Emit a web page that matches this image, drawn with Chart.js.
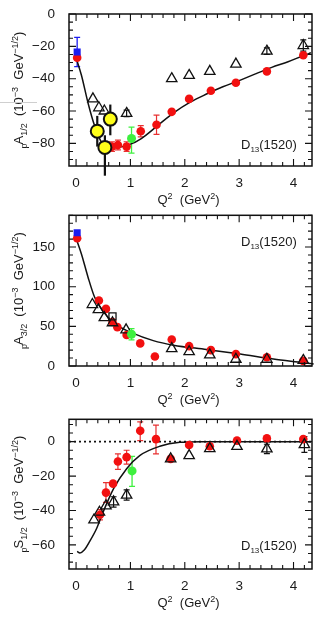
<!DOCTYPE html>
<html><head><meta charset="utf-8">
<script src="https://cdn.jsdelivr.net/npm/chart.js@4.4.1/dist/chart.umd.min.js"></script>
<style>
html,body{margin:0;padding:0;background:#fff;}
body{width:327px;height:622px;position:relative;overflow:hidden;}
canvas{position:absolute;left:0;}
</style>
</head><body>
<canvas id="c1" width="327" height="208" style="top:0px"></canvas>
<canvas id="c2" width="327" height="204" style="top:208px"></canvas>
<canvas id="c3" width="327" height="210" style="top:412px"></canvas>
<script>
// ---------- axis ranges / ticks ----------
const X_MIN = -0.13, X_MAX = 4.34;
const X_TICKS = [0, 1, 2, 3, 4];

// ---------- Panel 1 : A_1/2 ----------
const a12RedQ2  = [0.02, 0.66, 0.77, 0.93, 1.19, 1.48, 1.76, 2.08, 2.48, 2.94, 3.51, 4.18];
const a12RedVal = [-27, -82, -81, -82, -72.5, -68.5, -60.5, -52.5, -47.5, -42.5, -35.5, -25.5];
const a12RedLo  = [null, -85, -84, -85, -76, -74.5, null, null, null, null, null, null];
const a12RedHi  = [null, -79, -78, -79, -69, -62.5, null, null, null, null, null, null];
const a12TriQ2  = [0.31, 0.42, 0.52, 0.93, 1.76, 2.08, 2.46, 2.94, 3.51, 4.18];
const a12TriVal = [-52.5, -58, -60, -61.5, -40, -38, -35.5, -31, -23, -19.5];
const a12TriLo  = [null, null, null, -63.5, null, null, null, null, -25, -23];
const a12TriHi  = [null, null, null, -59.5, null, null, null, null, -21, -16];
const a12YelQ2  = [0.39, 0.53, 0.63];
const a12YelVal = [-72.5, -82.5, -65];
const a12YelLo  = [-82, -100, -75];
const a12YelHi  = [-63, -75, -56];
const a12YelQ2Lo = [null, null, 0.52];
const a12YelQ2Hi = [null, null, 0.74];
const a12BlueQ2 = [0.02], a12BlueVal = [-23.5], a12BlueLo = [-32.5], a12BlueHi = [-14.5];
const a12GrnQ2  = [1.02], a12GrnVal = [-77], a12GrnLo = [-86], a12GrnHi = [-70];
const a12CurveQ2  = [0.0, 0.1, 0.22, 0.34, 0.47, 0.58, 0.75, 1.0, 1.2, 1.5, 1.8, 2.1, 2.4, 2.7, 3.0, 3.3, 3.6, 3.9, 4.2, 4.32];
const a12CurveVal = [-27, -38, -55, -69, -79.5, -82.5, -82.5, -80.5, -77, -69, -61, -54.5, -49.5, -45, -41.2, -37, -33, -29.5, -25.5, -24];

// ---------- Panel 2 : A_3/2 ----------
const a32RedQ2  = [0.02, 0.42, 0.55, 0.67, 0.76, 0.93, 1.18, 1.45, 1.76, 2.08, 2.48, 2.94, 3.51, 4.18];
const a32RedVal = [161, 82.5, 72, 55.5, 49, 39, 28.5, 12, 33.5, 25, 20, 15, 11, 6.5];
const a32TriQ2  = [0.3, 0.41, 0.52, 0.67, 0.92, 1.76, 2.08, 2.46, 2.94, 3.51, 4.18];
const a32TriVal = [77.5, 71, 61, 54.5, 45.5, 22, 18, 14, 8.5, 8.5, 7];
const a32SqQ2   = [0.67], a32SqVal = [62.5];
const a32BlueQ2 = [0.02], a32BlueVal = [168];
const a32GrnQ2  = [1.02], a32GrnVal = [40], a32GrnLo = [33], a32GrnHi = [47];
const a32CurveQ2  = [0.0, 0.1, 0.22, 0.34, 0.53, 0.77, 1.02, 1.42, 1.79, 2.4, 3.02, 3.63, 4.18, 4.37];
const a32CurveVal = [161, 141, 112, 87, 66, 51, 42, 32, 26.3, 20.8, 15, 8.8, 4.2, 2.5];

// ---------- Panel 3 : S_1/2 ----------
const s12RedQ2  = [0.44, 0.55, 0.68, 0.77, 0.93, 1.18, 1.47, 1.74, 2.08, 2.46, 2.96, 3.51, 4.18];
const s12RedVal = [-42.5, -29.6, -24.4, -11.5, -9, 6.3, 1.5, -10, -1.9, -2.7, 0.6, 1.9, 1.5];
const s12RedLo  = [-45.5, -35.3, null, -16.1, -13, 0.6, -7.1, null, null, null, null, null, null];
const s12RedHi  = [-39.5, -23.8, null, -7.1, -5, 11.5, 9.6, null, null, null, null, null, null];
const s12TriQ2  = [0.33, 0.43, 0.55, 0.69, 0.93, 1.74, 2.08, 2.46, 2.96, 3.51, 4.2];
const s12TriVal = [-45.5, -41, -37.3, -35, -31.1, -10, -8.1, -4, -2.7, -4.2, -1.7];
const s12TriLo  = [null, null, null, -38, -34, null, null, null, null, -7, -6.2];
const s12TriHi  = [null, null, null, -32, -28, null, null, null, null, -1.5, 3];
const s12GrnQ2  = [1.03], s12GrnVal = [-17], s12GrnLo = [-26], s12GrnHi = [-8.6];
const s12CurveQ2  = [0.02, 0.07, 0.15, 0.25, 0.38, 0.5, 0.69, 0.93, 1.17, 1.54, 1.91, 2.3, 4.32];
const s12CurveVal = [-63.8, -64.7, -63, -58, -50.3, -40.7, -27.3, -15.7, -8.1, -2.7, -0.4, 0, 0];
const s12ZeroLine = [0, 0];

// ---------- styling ----------
const FONT = "'Liberation Sans', Arial, Helvetica, sans-serif";
const RED = '#f21010', RED_ERR = '#e83030', BLUE = '#1c1cf0', GREEN = '#3ef03e', YEL = '#ffff1a';

function pts(xs, ys) { return xs.map((x, i) => ({ x: x, y: ys[i] })); }
function fmt(v) { return v < 0 ? '\u2212' + Math.abs(v) : String(v); }

const errPlugin = {
  id: 'errbars',
  beforeDatasetsDraw(chart) {
    const ctx = chart.ctx, xs = chart.scales.x, ys = chart.scales.y;
    chart.data.datasets.forEach((ds) => {
      if (!ds.err) return;
      const e = ds.err;
      ctx.save();
      ctx.strokeStyle = e.color; ctx.lineWidth = e.width;
      ds.data.forEach((p, j) => {
        const px = xs.getPixelForValue(p.x);
        if (e.lo && e.lo[j] != null) {
          const y1 = ys.getPixelForValue(e.lo[j]), y2 = ys.getPixelForValue(e.hi[j]);
          ctx.beginPath(); ctx.moveTo(px, y1); ctx.lineTo(px, y2);
          if (e.cap) {
            ctx.moveTo(px - e.cap, y1); ctx.lineTo(px + e.cap, y1);
            ctx.moveTo(px - e.cap, y2); ctx.lineTo(px + e.cap, y2);
          }
          ctx.stroke();
        }
        if (e.xlo && e.xlo[j] != null) {
          const py = ys.getPixelForValue(p.y);
          ctx.beginPath();
          ctx.moveTo(xs.getPixelForValue(e.xlo[j]), py);
          ctx.lineTo(xs.getPixelForValue(e.xhi[j]), py);
          ctx.stroke();
        }
      });
      ctx.restore();
    });
  }
};

function drawRich(ctx, segs, x, y, rotate, align) {
  let total = 0;
  segs.forEach(s => { ctx.font = s.size + 'px ' + FONT; s.w = ctx.measureText(s.t).width; total += s.w + (s.gap || 0); });
  ctx.save();
  ctx.translate(x, y);
  if (rotate) ctx.rotate(-Math.PI / 2);
  ctx.fillStyle = '#1a1a1a';
  ctx.textBaseline = 'alphabetic'; ctx.textAlign = 'left';
  let xx = align === 'left' ? 0 : -total / 2;
  segs.forEach(s => { ctx.font = s.size + 'px ' + FONT; ctx.fillText(s.t, xx, s.dy || 0); xx += s.w + (s.gap || 0); });
  ctx.restore();
}

const framePlugin = {
  id: 'frame',
  afterDraw(chart, args, o) {
    const ctx = chart.ctx, a = chart.chartArea, xs = chart.scales.x, ys = chart.scales.y;
    ctx.save();
    ctx.strokeStyle = '#111';
    ctx.lineWidth = 1.1;
    ctx.beginPath();
    const tick = (scale, step, major, horiz) => {
      const k0 = Math.ceil(scale.min / step - 1e-9), k1 = Math.floor(scale.max / step + 1e-9);
      for (let k = k0; k <= k1; k++) {
        const v = k * step;
        const isMajor = Math.abs(v / major - Math.round(v / major)) < 1e-6;
        const len = isMajor ? 7 : 4;
        const p = scale.getPixelForValue(v);
        if (horiz) {
          ctx.moveTo(p, a.bottom); ctx.lineTo(p, a.bottom - len);
          ctx.moveTo(p, a.top); ctx.lineTo(p, a.top + len);
        } else {
          ctx.moveTo(a.left, p); ctx.lineTo(a.left + len, p);
          ctx.moveTo(a.right, p); ctx.lineTo(a.right - len, p);
        }
      }
    };
    tick(xs, 0.2, 1, true);
    tick(ys, o.yMinor, o.yMajor, false);
    ctx.stroke();
    ctx.lineWidth = 1.5;
    ctx.strokeRect(a.left, a.top, a.right - a.left, a.bottom - a.top);
    ctx.restore();
    // axis titles
    drawRich(ctx, [
      { t: 'Q', size: 13 }, { t: '2', size: 9, dy: -5 }, { t: '  (GeV', size: 13 }, { t: '2', size: 9, dy: -5 }, { t: ')', size: 13 }
    ], 188.5, a.bottom + 37.5, false);
    drawRich(ctx, o.ytitle, 23, (a.top + a.bottom) / 2, true);
    // resonance label
    drawRich(ctx, [
      { t: 'D', size: 13 }, { t: '13', size: 8, dy: 3, gap: 0 }, { t: '(1520)', size: 13 }
    ], a.right - 71, o.labelY(a), false, 'left');
    if (o.stray) {
      ctx.save(); ctx.strokeStyle = '#cfcfcf'; ctx.lineWidth = 1;
      ctx.beginPath(); ctx.moveTo(0, 102.5); ctx.lineTo(37, 102.5); ctx.stroke(); ctx.restore();
    }
  }
};

function ytitle(sym, sub) {
  return [
    { t: 'p', size: 9, dy: 4, gap: -1 }, { t: sym, size: 13 }, { t: sub, size: 9, dy: 4 },
    { t: '  (10', size: 13 }, { t: '\u22123', size: 9, dy: -5.5 }, { t: '  GeV', size: 13 },
    { t: '\u22121/2', size: 9, dy: -5.5 }, { t: ')', size: 13 }
  ];
}

function circleSet(xs, ys, color, r, order, err) {
  return { data: pts(xs, ys), pointStyle: 'circle', pointRadius: r, backgroundColor: color, borderColor: color, borderWidth: 0, order: order, err: err };
}
function triSet(xs, ys, order, err) {
  return { data: pts(xs, ys), pointStyle: 'triangle', pointRadius: 6, backgroundColor: 'rgba(0,0,0,0)', borderColor: '#111', borderWidth: 1.3, order: order, err: err };
}
function curveSet(xs, ys, order, dash) {
  return { data: pts(xs, ys), showLine: true, pointRadius: 0, borderColor: '#111', borderWidth: dash ? 1.6 : 1.5, borderDash: dash || [], cubicInterpolationMode: dash ? 'default' : 'monotone', order: order, clip: false };
}

function makeChart(id, spec) {
  new Chart(document.getElementById(id), {
    type: 'scatter',
    data: { datasets: spec.datasets },
    options: {
      responsive: false, animation: false, devicePixelRatio: 1,
      layout: { padding: { top: spec.padTop, right: 15, left: 0, bottom: 0 } },
      plugins: {
        legend: { display: false }, tooltip: { enabled: false },
        frame: { yMinor: spec.yMinor, yMajor: spec.yMajor, ytitle: spec.ytitle, labelY: spec.labelY, stray: spec.stray }
      },
      scales: {
        x: {
          type: 'linear', min: X_MIN, max: X_MAX, bounds: 'data',
          grid: { display: false, drawTicks: false }, border: { display: false },
          afterBuildTicks: (s) => { s.ticks = X_TICKS.map(v => ({ value: v })); },
          ticks: { padding: 9, color: '#1a1a1a', maxRotation: 0, font: { family: FONT, size: 13.5 }, callback: fmt },
          afterFit: (s) => { s.height = spec.xH; s.paddingLeft = 0; s.paddingRight = 0; }
        },
        y: {
          type: 'linear', min: spec.yMin, max: spec.yMax, bounds: 'data',
          grid: { display: false, drawTicks: false }, border: { display: false },
          afterBuildTicks: (s) => { s.ticks = spec.yTicks.map(v => ({ value: v })); },
          ticks: { padding: 14, color: '#1a1a1a', font: { family: FONT, size: 13.5 }, callback: fmt },
          afterFit: (s) => { s.width = 69; s.paddingTop = 0; s.paddingBottom = 0; }
        }
      }
    },
    plugins: [errPlugin, framePlugin]
  });
}

// Panel 1
makeChart('c1', {
  padTop: 14, xH: 42, yMin: -94, yMax: 0, yTicks: [-80, -60, -40, -20, 0], yMinor: 5, yMajor: 20,
  ytitle: ytitle('A', '1/2'), labelY: (a) => a.bottom - 17, stray: true,
  datasets: [
    Object.assign(circleSet(a12YelQ2, a12YelVal, YEL, 6.5, 1, { color: '#111', width: 2.2, cap: 0, lo: a12YelLo, hi: a12YelHi, xlo: a12YelQ2Lo, xhi: a12YelQ2Hi }), { borderColor: '#111', borderWidth: 2 }),
    Object.assign(circleSet(a12BlueQ2, a12BlueVal, BLUE, 5, 2, { color: BLUE, width: 1.3, cap: 3, lo: a12BlueLo, hi: a12BlueHi }), { pointStyle: 'rect' }),
    circleSet(a12GrnQ2, a12GrnVal, GREEN, 4.5, 3, { color: GREEN, width: 1.3, cap: 3, lo: a12GrnLo, hi: a12GrnHi }),
    triSet(a12TriQ2, a12TriVal, 4, { color: '#111', width: 1.2, cap: 3, lo: a12TriLo, hi: a12TriHi }),
    circleSet(a12RedQ2, a12RedVal, RED, 4.3, 5, { color: RED_ERR, width: 1.2, cap: 3, lo: a12RedLo, hi: a12RedHi }),
    curveSet(a12CurveQ2, a12CurveVal, 10)
  ]
});

// Panel 2
makeChart('c2', {
  padTop: 6, xH: 46, yMin: 0, yMax: 190, yTicks: [0, 50, 100, 150], yMinor: 10, yMajor: 50,
  ytitle: ytitle('A', '3/2'), labelY: (a) => a.top + 30.5,
  datasets: [
    Object.assign(circleSet(a32BlueQ2, a32BlueVal, BLUE, 5, 2), { pointStyle: 'rect' }),
    circleSet(a32GrnQ2, a32GrnVal, GREEN, 4.5, 3, { color: GREEN, width: 1.3, cap: 3, lo: a32GrnLo, hi: a32GrnHi }),
    { data: pts(a32SqQ2, a32SqVal), pointStyle: 'rect', pointRadius: 5, backgroundColor: 'rgba(0,0,0,0)', borderColor: '#111', borderWidth: 1.3, order: 4 },
    triSet(a32TriQ2, a32TriVal, 4),
    circleSet(a32RedQ2, a32RedVal, RED, 4.3, 5),
    curveSet(a32CurveQ2, a32CurveVal, 10)
  ]
});

// Panel 3
makeChart('c3', {
  padTop: 6, xH: 53, yMin: -74, yMax: 13, yTicks: [-60, -40, -20, 0], yMinor: 5, yMajor: 20,
  ytitle: ytitle('S', '1/2'), labelY: (a) => a.bottom - 19.5,
  datasets: [
    circleSet(s12GrnQ2, s12GrnVal, GREEN, 4.5, 3, { color: GREEN, width: 1.3, cap: 3, lo: s12GrnLo, hi: s12GrnHi }),
    triSet(s12TriQ2, s12TriVal, 4, { color: '#111', width: 1.2, cap: 3, lo: s12TriLo, hi: s12TriHi }),
    circleSet(s12RedQ2, s12RedVal, RED, 4.3, 5, { color: RED_ERR, width: 1.2, cap: 3, lo: s12RedLo, hi: s12RedHi }),
    curveSet(s12CurveQ2, s12CurveVal, 10),
    Object.assign(curveSet([X_MIN, X_MAX], s12ZeroLine, 11, [2, 3]), { clip: true })
  ]
});
</script>
</body></html>
